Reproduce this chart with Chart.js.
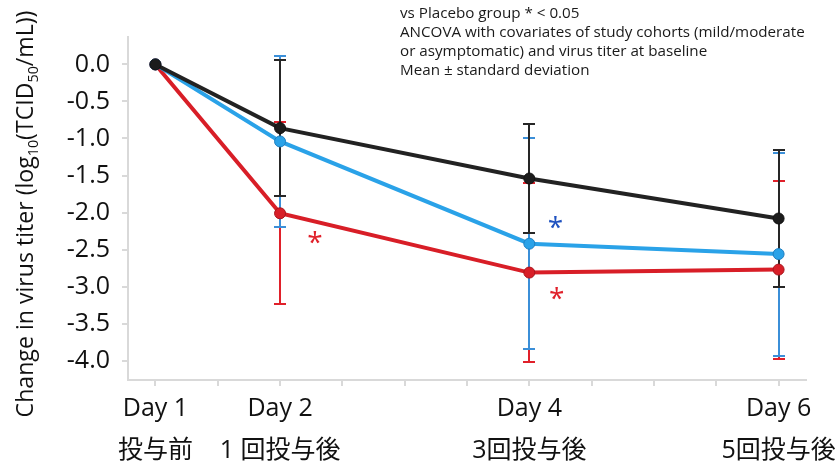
<!DOCTYPE html>
<html>
<head>
<meta charset="utf-8">
<script src="https://cdn.jsdelivr.net/npm/chart.js@4.4.0/dist/chart.umd.min.js"></script>
<style>
  html, body { margin: 0; padding: 0; background: #ffffff; }
  #contenedor { width: 839px; height: 462px; position: relative; }
</style>
</head>
<body>
<div id="contenedor"><canvas id="graficoTiter" width="839" height="462"></canvas></div>
<script>
// datos
const dias = [1, 2, 4, 6];
const etiquetasDia = ["Day 1", "Day 2", "Day 4", "Day 6"];
const etiquetasDosis = ["投与前", "1 回投与後", "3回投与後", "5回投与後"];
const marcasY = [0, -0.5, -1, -1.5, -2, -2.5, -3, -3.5, -4];
const marcasX = [1, 1.5, 2, 2.5, 3, 3.5, 4, 4.5, 5, 5.5, 6];

const placebo = [0, -0.86, -1.54, -2.08];
const placeboDE = [0, 0.92, 0.74, 0.92];
const grupoAzul = [0, -1.04, -2.42, -2.56];
const grupoAzulDE = [0, 1.16, 1.42, 1.37];
const grupoRojo = [0, -2.01, -2.81, -2.77];
const grupoRojoDE = [0, 1.23, 1.21, 1.20];

const notas = [
  "vs Placebo group * < 0.05",
  "ANCOVA with covariates of study cohorts (mild/moderate",
  "or asymptomatic) and virus titer at baseline",
  "Mean ± standard deviation"
];

// asteriscos de significancia (dia, valor, color)
const asteriscos = [
  { x: 2.28, y: -2.33, color: "#e0202a" },
  { x: 4.21, y: -2.13, color: "#1f52c0" },
  { x: 4.22, y: -3.09, color: "#e0202a" }
];

const fuente = "'Open Sans', 'Noto Sans CJK JP', sans-serif";

function armarPuntos(valores) {
  return valores.map((v, i) => ({ x: dias[i], y: v }));
}

const pluginBarrasError = {
  id: 'barrasError',
  beforeDatasetsDraw(chart) {
    const ctx = chart.ctx;
    const escX = chart.scales.x;
    const escY = chart.scales.y;
    ctx.save();
    ctx.lineWidth = 2;
    // rojo primero, negro al final (arriba)
    for (let i = chart.data.datasets.length - 1; i >= 0; i--) {
      const ds = chart.data.datasets[i];
      ctx.strokeStyle = ds.colorError;
      ds.data.forEach((p, j) => {
        const de = ds.desvio[j];
        if (!de) return;
        const px = Math.round(escX.getPixelForValue(p.x));
        const yArriba = Math.round(escY.getPixelForValue(p.y + de));
        const yAbajo = Math.round(escY.getPixelForValue(p.y - de));
        ctx.beginPath();
        ctx.moveTo(px, yArriba);
        ctx.lineTo(px, yAbajo);
        ctx.moveTo(px - 6, yArriba);
        ctx.lineTo(px + 6, yArriba);
        ctx.moveTo(px - 6, yAbajo);
        ctx.lineTo(px + 6, yAbajo);
        ctx.stroke();
      });
    }
    ctx.restore();
  }
};

const pluginTextos = {
  id: 'textos',
  afterDraw(chart) {
    const ctx = chart.ctx;
    const escX = chart.scales.x;
    const escY = chart.scales.y;
    ctx.save();

    // titulo del eje Y con subindices
    const partes = [
      { t: "Change in virus titer (log", sub: false },
      { t: "10", sub: true },
      { t: "(TCID", sub: false },
      { t: "50", sub: true },
      { t: "/mL))", sub: false }
    ];
    function anchoTitulo(tam) {
      let w = 0;
      partes.forEach(p => {
        ctx.font = (p.sub ? tam * 0.62 : tam) + "px " + fuente;
        w += ctx.measureText(p.t).width;
      });
      return w;
    }
    let tam = 100;
    tam = tam * 407 / anchoTitulo(tam);
    const total = anchoTitulo(tam);
    ctx.translate(33, 214);
    ctx.rotate(-Math.PI / 2);
    ctx.fillStyle = "#111111";
    ctx.textBaseline = "alphabetic";
    ctx.textAlign = "left";
    let cx = -total / 2;
    partes.forEach(p => {
      ctx.font = (p.sub ? tam * 0.62 : tam) + "px " + fuente;
      ctx.fillText(p.t, cx, p.sub ? tam * 0.2 : 0);
      cx += ctx.measureText(p.t).width;
    });
    ctx.setTransform(1, 0, 0, 1, 0, 0);

    // notas arriba a la derecha
    ctx.font = "100px " + fuente;
    const tamNota = 100 * 405 / ctx.measureText(notas[1]).width;
    ctx.font = tamNota + "px " + fuente;
    ctx.fillStyle = "#1a1a1a";
    ctx.textBaseline = "middle";
    notas.forEach((linea, i) => {
      ctx.fillText(linea, 400, 14 + i * 19);
    });

    // asteriscos
    ctx.font = "28px " + fuente;
    ctx.textAlign = "center";
    ctx.textBaseline = "alphabetic";
    asteriscos.forEach(a => {
      ctx.fillStyle = a.color;
      ctx.fillText("*", escX.getPixelForValue(a.x), escY.getPixelForValue(a.y) + 28 * 0.52);
    });
    ctx.restore();
  }
};

let ctxTiter = document.getElementById("graficoTiter");
let graficoTiter = new Chart(ctxTiter, {
  type: 'line',
  data: {
    datasets: [
      {
        label: 'Placebo',
        data: armarPuntos(placebo),
        desvio: placeboDE,
        colorError: '#262626',
        borderColor: '#222222',
        backgroundColor: '#1c1c1c',
        pointBorderColor: '#111111',
        borderWidth: 4,
        pointRadius: 5.5,
        pointBorderWidth: 1
      },
      {
        label: 'Azul',
        data: armarPuntos(grupoAzul),
        desvio: grupoAzulDE,
        colorError: '#3b8fd8',
        borderColor: '#2aa2e8',
        backgroundColor: '#2aa2e8',
        pointBorderColor: '#1f7fc0',
        borderWidth: 4,
        pointRadius: 5.5,
        pointBorderWidth: 1
      },
      {
        label: 'Rojo',
        data: armarPuntos(grupoRojo),
        desvio: grupoRojoDE,
        colorError: '#e0202a',
        borderColor: '#d81e27',
        backgroundColor: '#d81e27',
        pointBorderColor: '#a8141c',
        borderWidth: 4,
        pointRadius: 5.5,
        pointBorderWidth: 1
      }
    ]
  },
  options: {
    responsive: false,
    animation: false,
    devicePixelRatio: 1,
    layout: { padding: { left: 0, right: 31, top: 37, bottom: 0 } },
    plugins: {
      legend: { display: false },
      tooltip: { enabled: false }
    },
    scales: {
      x: {
        type: 'linear',
        min: 0.78,
        max: 6.22,
        afterBuildTicks: (eje) => { eje.ticks = marcasX.map(v => ({ value: v })); },
        afterFit: (eje) => { eje.height = 82; },
        grid: { drawOnChartArea: false, drawTicks: true, tickLength: 6, color: '#d9d9d9', lineWidth: 2 },
        border: { color: '#d9d9d9', width: 2 },
        ticks: {
          autoSkip: false,
          maxRotation: 0,
          padding: 2,
          color: '#111111',
          font: { family: fuente, size: 25, lineHeight: 1.68 },
          callback: (valor) => {
            const i = dias.indexOf(valor);
            return i >= 0 ? [etiquetasDia[i], etiquetasDosis[i]] : '';
          }
        }
      },
      y: {
        type: 'linear',
        min: -4.26,
        max: 0.37,
        afterBuildTicks: (eje) => { eje.ticks = marcasY.map(v => ({ value: v })); },
        afterFit: (eje) => { eje.width = 128; },
        grid: { drawOnChartArea: false, drawTicks: true, tickLength: 6, color: '#d9d9d9', lineWidth: 2 },
        border: { color: '#d9d9d9', width: 2 },
        ticks: {
          padding: 12,
          color: '#111111',
          font: { family: fuente, size: 25 },
          callback: (valor) => valor.toFixed(1)
        }
      }
    }
  },
  plugins: [pluginBarrasError, pluginTextos]
});
</script>
</body>
</html>
